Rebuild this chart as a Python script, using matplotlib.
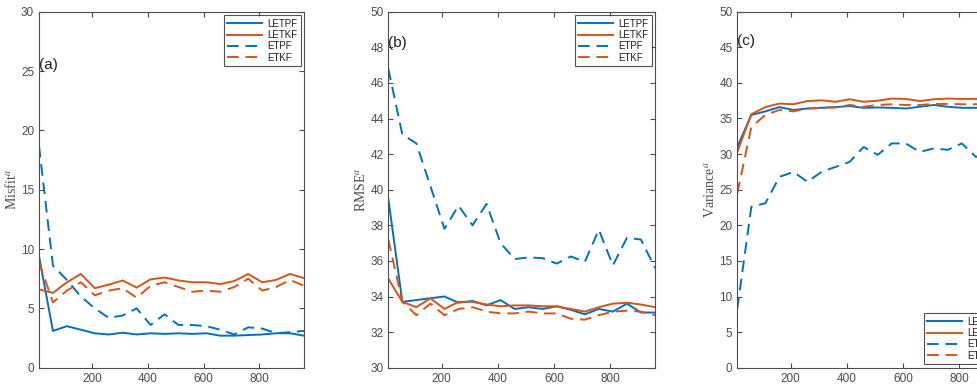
import matplotlib
matplotlib.use("Agg")
import matplotlib.pyplot as plt
import numpy as np

steps = [10, 60, 110, 160, 210, 260, 310, 360, 410, 460, 510, 560, 610, 660, 710, 760, 810, 860, 910, 960]

# (a) Misfit
misfit_letpf = [9.4, 3.1, 3.5, 3.2, 2.9, 2.8, 2.95, 2.8, 2.9, 2.85, 2.9, 2.85, 2.9, 2.7, 2.7, 2.75, 2.8, 2.9, 2.9, 2.7]
misfit_letkf = [6.6, 6.3, 7.2, 7.9, 6.7, 7.0, 7.35, 6.75, 7.45, 7.6, 7.35, 7.2, 7.2, 7.05, 7.3, 7.9, 7.2, 7.4, 7.9, 7.55]
misfit_etpf = [18.7, 8.6, 7.4, 6.0, 5.0, 4.2, 4.4, 5.0, 3.6, 4.5, 3.6, 3.6, 3.5, 3.2, 2.8, 3.4, 3.3, 2.9, 3.0, 3.1]
misfit_etkf = [8.9, 5.5, 6.5, 7.2, 6.1, 6.5, 6.7, 5.9, 6.9, 7.2, 6.8, 6.4, 6.5, 6.4, 6.8, 7.5, 6.5, 6.8, 7.4, 6.9]

# (b) RMSE
rmse_letpf = [39.5, 33.7, 33.8, 33.9, 34.0, 33.65, 33.75, 33.5, 33.8, 33.3, 33.4, 33.3, 33.45, 33.25, 33.0, 33.3, 33.15, 33.6, 33.1, 33.1]
rmse_letkf = [35.0, 33.7, 33.4, 33.9, 33.3, 33.7, 33.7, 33.55, 33.45, 33.5, 33.5, 33.45, 33.45, 33.3, 33.15, 33.4, 33.6, 33.65, 33.55, 33.4]
rmse_etpf = [46.8, 43.1, 42.6, 40.2, 37.8, 39.1, 38.0, 39.2, 37.0, 36.1, 36.2, 36.15, 35.85, 36.25, 35.95, 37.75, 35.75, 37.3, 37.2, 35.6]
rmse_etkf = [37.2, 33.7, 32.95, 33.6, 32.95, 33.3, 33.4, 33.15, 33.05, 33.05, 33.15, 33.05, 33.05, 32.75, 32.7, 32.95, 33.15, 33.2, 33.15, 32.95]

# (c) Variance
var_letpf = [31.0, 35.5, 36.0, 36.6, 36.2, 36.4, 36.5, 36.6, 36.75, 36.5, 36.55, 36.5, 36.4, 36.65, 36.9, 36.65, 36.5, 36.5, 36.6, 36.5]
var_letkf = [30.3, 35.6, 36.6, 37.1, 37.0, 37.45, 37.55, 37.35, 37.7, 37.35, 37.5, 37.8, 37.75, 37.45, 37.7, 37.8, 37.75, 37.75, 37.7, 37.8]
var_etpf = [8.3, 22.6, 23.1, 26.8, 27.5, 26.1, 27.5, 28.2, 28.9, 31.0, 29.9, 31.5, 31.5, 30.3, 30.8, 30.6, 31.5, 29.6, 30.5, 30.8]
var_etkf = [24.5, 33.8, 35.5, 36.2, 36.0, 36.4, 36.5, 36.55, 36.9, 36.65, 36.9, 37.0, 36.9, 36.9, 37.05, 37.05, 37.0, 37.0, 37.0, 37.0]

labels = ["LETPF", "LETKF", "ETPF", "ETKF"]
blue = "#0072BD"
orange = "#D95319"
gray = "#4d4d4d"

plt.rcParams['font.family'] = ['Liberation Sans', 'DejaVu Sans']
plt.rcParams['mathtext.fontset'] = 'stix'

fig = plt.figure(figsize=(9.78, 3.86), dpi=100)

axpos = [
    [39.0/978, 18.3/386, 265/978, 356/386],
    [388.3/978, 18.3/386, 266.7/978, 356/386],
    [737.3/978, 18.3/386, 266.7/978, 356/386],
]

panels = [
    (misfit_letpf, misfit_letkf, misfit_etpf, misfit_etkf, (0, 30), 5, "Misfit", "(a)", 0.85, "upper right"),
    (rmse_letpf, rmse_letkf, rmse_etpf, rmse_etkf, (30, 50), 2, "RMSE", "(b)", 0.913, "upper right"),
    (var_letpf, var_letkf, var_etpf, var_etkf, (0, 50), 5, "Variance", "(c)", 0.919, "lower right"),
]

for pos, (a1, a2, a3, a4, ylim, ystep, ylab, tag, tagy, legloc) in zip(axpos, panels):
    ax = fig.add_axes(pos)
    lw = 1.4
    ax.plot(steps, a1, color=blue, lw=lw, label=labels[0])
    ax.plot(steps, a2, color=orange, lw=lw, label=labels[1])
    ax.plot(steps, a3, color=blue, lw=lw, ls=(0, (6, 3.5)), label=labels[2])
    ax.plot(steps, a4, color=orange, lw=lw, ls=(0, (6, 3.5)), label=labels[3])
    ax.set_xlim(10, 960)
    ax.set_ylim(*ylim)
    ax.set_xticks([200, 400, 600, 800])
    ax.set_yticks(np.arange(ylim[0], ylim[1] + 0.1, ystep))
    ax.tick_params(direction='in', top=True, right=True, length=3.5, width=0.8,
                   colors=gray, labelsize=8.5, labelcolor=gray)
    for s in ax.spines.values():
        s.set_color(gray)
        s.set_linewidth(0.8)
    ax.set_ylabel(ylab + r"$^{a}$", family=['Liberation Serif'], fontsize=10, color=gray, labelpad=1.5)
    ax.text(0.0, tagy, tag, transform=ax.transAxes, fontsize=11, color='#202020',
            ha='left', va='center')
    leg = ax.legend(loc=legloc, fontsize=7, frameon=True, fancybox=False,
                    handlelength=3.6, borderpad=0.35, labelspacing=0.15,
                    handletextpad=0.5, borderaxespad=0.35)
    leg.get_frame().set_edgecolor('#262626')
    leg.get_frame().set_linewidth(0.8)
    for t in leg.get_texts():
        t.set_color('#202020')

fig.savefig("out.png", dpi=100)
